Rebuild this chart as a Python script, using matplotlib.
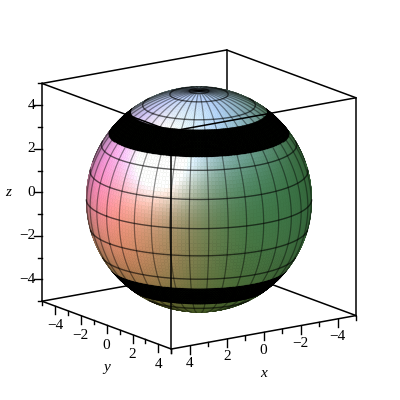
import numpy as np
import matplotlib
matplotlib.use("Agg")
import matplotlib.pyplot as plt
from mpl_toolkits.mplot3d import proj3d

# ---- chart values ----
radius = 5.0
axis_limits = (-5, 5)
major_ticks = [-4, -2, 0, 2, 4]
minor_ticks = [-5, -3, -1, 1, 3, 5]
black_band_upper = (3.0, 4.0)
black_band_lower = (-4.0, -3.0)
parallels_deg = [-75, -60, -30, -15, 0, 15, 30, 60, 75, 85]
meridian_step_deg = 10
elev, azim = 15.0, 55.0

plt.rcParams['font.family'] = ['Liberation Serif', 'DejaVu Serif']
fig = plt.figure(figsize=(4, 4), dpi=100)
ax = fig.add_axes([0, 0, 1, 1], projection='3d', computed_zorder=False)
ax.set_proj_type('ortho')
ax.view_init(elev=elev, azim=azim)
ax.set_box_aspect((1, 1, 1))
ax.set_xlim(*axis_limits, view_margin=0)
ax.set_ylim(*axis_limits, view_margin=0)
ax.set_zlim(*axis_limits, view_margin=0)
ax.set_axis_off()
fig.patch.set_facecolor('white')

# fit the box to the picture area
def to_px(x, y, z):
    xs, ys, _ = proj3d.proj_transform(x, y, z, ax.get_proj())
    return ax.transData.transform((xs, ys))
fig.canvas.draw()
pL = to_px(5, -5, -5); pR = to_px(-5, 5, -5); pC = to_px(0, 0, 0)
f = 314.0 / (pR[0] - pL[0])
ax.set_position([199.0 / 400 - pC[0] / 400 * f, (400 - 199.5) / 400 - pC[1] / 400 * f, f, f])
fig.canvas.draw()

a, e = np.radians(azim), np.radians(elev)
right = np.array([-np.sin(a), np.cos(a), 0.0])
up = np.array([-np.sin(e) * np.cos(a), -np.sin(e) * np.sin(a), np.cos(e)])
view = np.array([np.cos(e) * np.cos(a), np.cos(e) * np.sin(a), np.sin(e)])
px = 22.55  # pixels per data unit

# sphere mesh, with rows exactly on the band edges
band_lat = np.arcsin(np.array(black_band_lower + black_band_upper) / radius)
lat = np.unique(np.concatenate([np.linspace(-np.pi / 2, np.pi / 2, 91), band_lat]))
lon = np.linspace(0, 2 * np.pi, 181)
LON, LAT = np.meshgrid(lon, lat)
X = radius * np.cos(LAT) * np.cos(LON)
Y = radius * np.cos(LAT) * np.sin(LON)
Z = radius * np.sin(LAT)

latm = 0.5 * (lat[:-1] + lat[1:])
lonm = 0.5 * (lon[:-1] + lon[1:])
LONm, LATm = np.meshgrid(lonm, latm)
nx, ny, nz = np.cos(LATm) * np.cos(LONm), np.cos(LATm) * np.sin(LONm), np.sin(LATm)
sx = nx * right[0] + ny * right[1] + nz * right[2]
sy = nx * up[0] + ny * up[1] + nz * up[2]
sz = nx * view[0] + ny * view[1] + nz * view[2]

def d(lx, ly, lz, p=1.0):
    v = np.array([lx, ly, lz], float)
    v /= np.linalg.norm(v)
    return np.clip(sx * v[0] + sy * v[1] + sz * v[2], 0, 1) ** p

spec = d(-.34, .28, .90, 18)
red = d(-.8, -.15, .58, 2.5)
top = d(-.15, .80, .58, 3.5)
mag = d(-.9, .3, .3, 7)
grn = d(.7, -.1, .7, 1.0)
low = d(0, -1, .5, 2.0)
R = .24 + .70 * red + .62 * top + .22 * mag + .42 * spec + .08 * low
G = .40 + .08 * grn + .55 * top + .20 * red + .44 * spec
B = .16 + .13 * grn + 1.00 * top + .38 * mag + .30 * red + .48 * spec - .02 * low
limb = .72 + .28 * np.clip(sz, 0, 1) ** .5
fc = np.dstack([np.clip(R * limb, 0, 1), np.clip(G * limb, 0, 1), np.clip(B * limb, 0, 1), np.ones_like(R)])
zm = radius * np.sin(LATm)
mask = ((zm > black_band_upper[0]) & (zm < black_band_upper[1])) | ((zm > black_band_lower[0]) & (zm < black_band_lower[1]))
fc[mask] = (0, 0, 0, 1)
ax.plot_surface(X, Y, Z, facecolors=fc, rstride=1, cstride=1, shade=False,
                linewidth=0.35, antialiased=True, zorder=2)

# mesh lines, visible half only
def front_only(x, y, z):
    vis = x * view[0] + y * view[1] + z * view[2] > 0
    return np.where(vis, x, np.nan), np.where(vis, y, np.nan), np.where(vis, z, np.nan)

t = np.linspace(0, 2 * np.pi, 361)
for p in np.radians(parallels_deg):
    x, y, z = front_only(radius * np.cos(p) * np.cos(t), radius * np.cos(p) * np.sin(t), radius * np.sin(p) * np.ones_like(t))
    ax.plot(x, y, z, color='k', lw=1.0, alpha=0.6, zorder=3)
u = np.linspace(-np.pi / 2, np.pi / 2, 181)
for m in np.radians(np.arange(0, 360, meridian_step_deg)):
    x, y, z = front_only(radius * np.cos(u) * np.cos(m), radius * np.cos(u) * np.sin(m), radius * np.sin(u))
    ax.plot(x, y, z, color='k', lw=0.9, alpha=0.42, zorder=3)

# box
lo, hi = axis_limits
edges_back = [((lo, lo, lo), (lo, lo, hi)), ((lo, lo, lo), (hi, lo, lo)), ((lo, lo, lo), (lo, hi, lo))]
edges_front = [((hi, lo, lo), (hi, hi, lo)), ((hi, hi, lo), (lo, hi, lo)),
               ((hi, lo, lo), (hi, lo, hi)), ((hi, hi, lo), (hi, hi, hi)), ((lo, hi, lo), (lo, hi, hi)),
               ((hi, lo, hi), (hi, hi, hi)), ((hi, hi, hi), (lo, hi, hi)),
               ((lo, lo, hi), (hi, lo, hi)), ((lo, lo, hi), (lo, hi, hi))]
for A, Bb in edges_back:
    ax.plot(*zip(A, Bb), color='k', lw=1.1, zorder=1, solid_capstyle='round')
for A, Bb in edges_front:
    ax.plot(*zip(A, Bb), color='k', lw=1.1, zorder=5, solid_capstyle='round')

# ticks and labels
zdown = 1 / (px * np.cos(e))
left = -right / px
def label(v):
    return f"\u2212{abs(v)}" if v < 0 else str(v)
for v, L in [(v, 8) for v in major_ticks] + [(v, 4) for v in minor_ticks]:
    ax.plot([v, v], [hi, hi], [lo, lo - L * zdown], color='k', lw=1, zorder=5)
    ax.plot([hi, hi], [v, v], [lo, lo - L * zdown], color='k', lw=1, zorder=5)
    pz = np.array([hi, lo, v])
    q = pz + left * L
    ax.plot([pz[0], q[0]], [pz[1], q[1]], [pz[2], q[2]], color='k', lw=1, zorder=5)

def put(x, y, z, s, **kw):
    p = to_px(x, y, z)
    fig.text(p[0] / 400, p[1] / 400, s, va='center', fontsize=11, **kw)

for v in major_ticks:
    put(v, hi, lo - 18 * zdown, label(v), ha='center')
    put(hi, v, lo - 20 * zdown, label(v), ha='center')
    q = np.array([hi, lo, v]) + left * 7
    put(q[0], q[1], q[2], label(v), ha='right')

put(0, hi, lo - 41 * zdown, 'x', style='italic', ha='center')
put(hi, 0, lo - 42 * zdown, 'y', style='italic', ha='center')
qz = np.array([hi, lo, 0.0]) + left * 34
put(qz[0], qz[1], qz[2], 'z', style='italic', ha='center')

fig.savefig('out.png', dpi=100, facecolor='white')
